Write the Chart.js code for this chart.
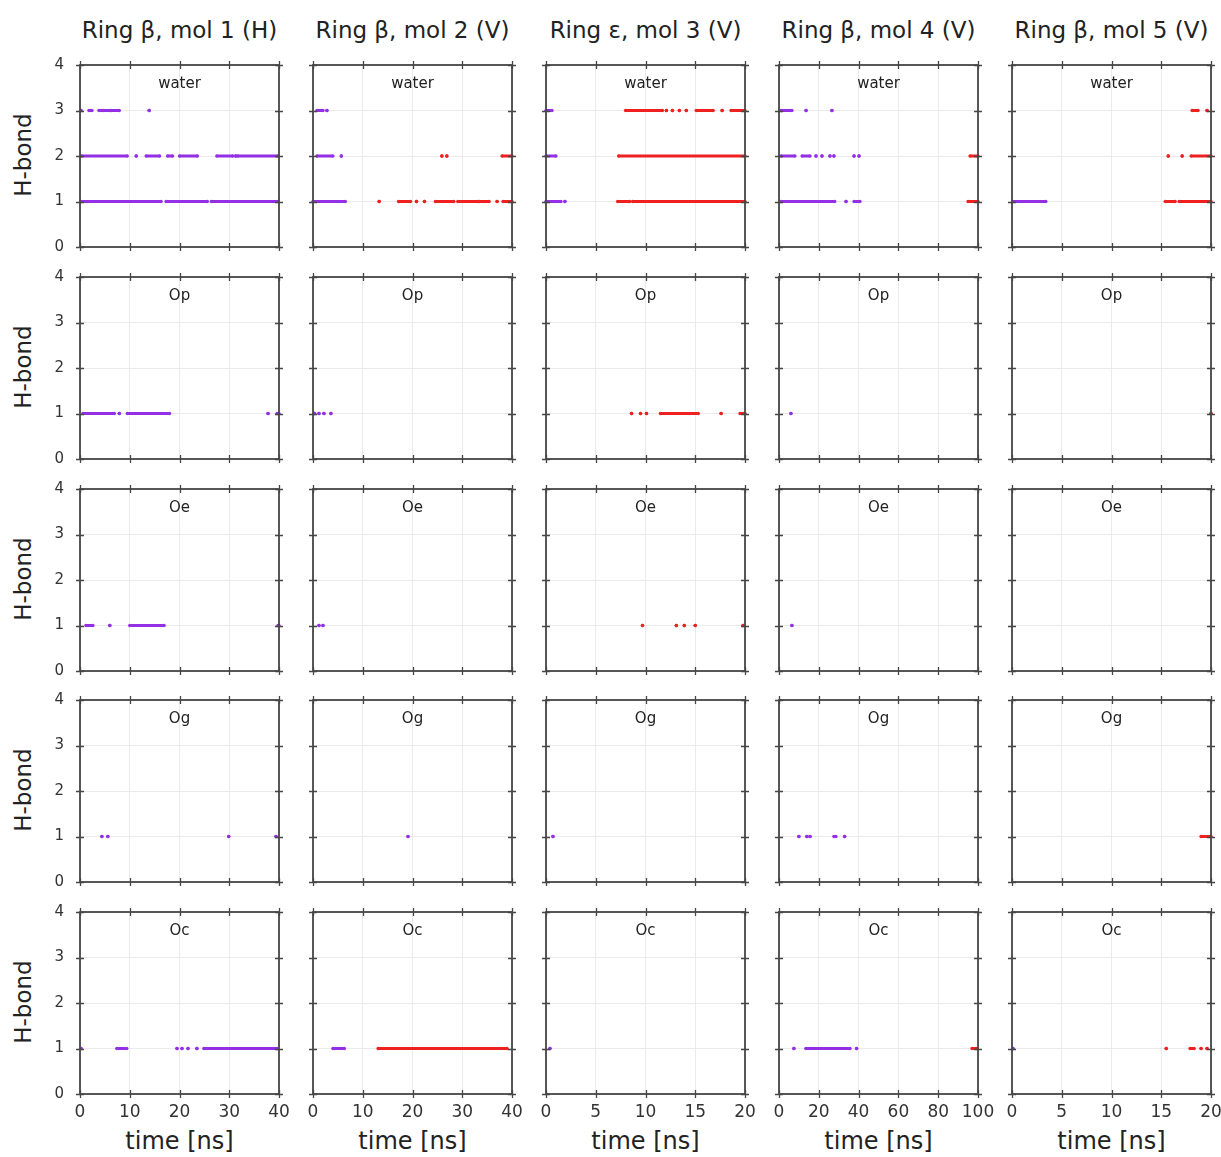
<!DOCTYPE html>
<html>
<head>
<meta charset="utf-8">
<title>H-bond occupancy</title>
<script src="https://cdn.jsdelivr.net/npm/chart.js@4.4.0/dist/chart.umd.min.js"></script>
<style>
    body { margin: 0; background: #fff; overflow: hidden; }
    #page { position: relative; width: 1221px; height: 1157px; font-family: 'DejaVu Sans', sans-serif; color: #222; }
    #page canvas { position: absolute; }
    .coltitle { position: absolute; top: 17px; width: 260px; text-align: center; font-size: 23px; white-space: nowrap; }
    .xlabel { position: absolute; top: 1127px; width: 200px; text-align: center; font-size: 24px; white-space: nowrap; }
    .ylabel { position: absolute; left: -27px; width: 100px; text-align: center; font-size: 23px; transform: rotate(-90deg); white-space: nowrap; }
</style>
</head>
<body>
<div id="page"></div>
<script>
// Panel layout
const rowNames = ['water', 'Op', 'Oe', 'Og', 'Oc'];
const colTitles = ['Ring β, mol 1 (H)', 'Ring β, mol 2 (V)', 'Ring ε, mol 3 (V)', 'Ring β, mol 4 (V)', 'Ring β, mol 5 (V)'];
const xMax = [40, 40, 20, 100, 20];
const xStep = [10, 10, 5, 20, 5];
const yMax = 4;

// H-bond segments: [acceptor, state, count, from ns, to ns]
const mol1 = [
    ['water', 'A', 3, 0.2, 0.2], ['water', 'A', 3, 1.8, 2.4], ['water', 'A', 3, 3.8, 4.4], ['water', 'A', 3, 4.8, 5.9],
    ['water', 'A', 3, 6.3, 7.9], ['water', 'A', 3, 13.9, 13.9],
    ['water', 'A', 2, 0.2, 9.5], ['water', 'A', 2, 11.3, 11.3], ['water', 'A', 2, 13.3, 16], ['water', 'A', 2, 17.6, 18.6],
    ['water', 'A', 2, 20, 23.6], ['water', 'A', 2, 27.5, 30.7], ['water', 'A', 2, 31.3, 31.3], ['water', 'A', 2, 31.7, 39.8],
    ['water', 'A', 1, 0.2, 16.3], ['water', 'A', 1, 17.3, 25.6], ['water', 'A', 1, 26.4, 39.8],
    ['Op', 'A', 1, 0.6, 6.9], ['Op', 'A', 1, 7.9, 7.9], ['Op', 'A', 1, 9.5, 18], ['Op', 'A', 1, 37.8, 37.8], ['Op', 'A', 1, 39.6, 40],
    ['Oe', 'A', 1, 1.2, 2.6], ['Oe', 'A', 1, 6, 6], ['Oe', 'A', 1, 10, 16.9], ['Oe', 'A', 1, 39.8, 40],
    ['Og', 'A', 1, 4.4, 4.4], ['Og', 'A', 1, 5.6, 5.6], ['Og', 'A', 1, 29.9, 29.9], ['Og', 'A', 1, 39.4, 39.4],
    ['Oc', 'A', 1, 0.2, 0.2], ['Oc', 'A', 1, 7.4, 9.4], ['Oc', 'A', 1, 19.5, 19.5], ['Oc', 'A', 1, 20.5, 20.5],
    ['Oc', 'A', 1, 21.7, 21.7], ['Oc', 'A', 1, 23.5, 23.5], ['Oc', 'A', 1, 24.9, 39.6]
];

const mol2 = [
    ['water', 'A', 3, 0.8, 2.0], ['water', 'A', 3, 2.8, 2.8],
    ['water', 'A', 2, 0.8, 4.0], ['water', 'A', 2, 5.7, 5.7],
    ['water', 'B', 2, 25.9, 25.9], ['water', 'B', 2, 26.9, 26.9], ['water', 'B', 2, 38, 40],
    ['water', 'A', 1, 0, 6.5],
    ['water', 'B', 1, 13.3, 13.3], ['water', 'B', 1, 17.2, 19.6], ['water', 'B', 1, 20.8, 20.8], ['water', 'B', 1, 22.4, 22.4],
    ['water', 'B', 1, 24.6, 28.3], ['water', 'B', 1, 29.1, 33.1], ['water', 'B', 1, 33.5, 35.4], ['water', 'B', 1, 37, 37],
    ['water', 'B', 1, 38.2, 40],
    ['Op', 'A', 1, 0.3, 0.3], ['Op', 'A', 1, 1.2, 1.2], ['Op', 'A', 1, 2.2, 2.2], ['Op', 'A', 1, 3.6, 3.6],
    ['Oe', 'A', 1, 1.2, 1.2], ['Oe', 'A', 1, 2.0, 2.0],
    ['Og', 'A', 1, 19.1, 19.1],
    ['Oc', 'A', 1, 4.0, 6.3], ['Oc', 'B', 1, 13.1, 39]
];

const mol3 = [
    ['water', 'A', 3, 0, 0.6],
    ['water', 'B', 3, 8.0, 11.7], ['water', 'B', 3, 12.1, 12.1], ['water', 'B', 3, 12.7, 12.7], ['water', 'B', 3, 13.4, 13.4],
    ['water', 'B', 3, 14.1, 14.1], ['water', 'B', 3, 15.1, 16.8], ['water', 'B', 3, 17.7, 17.7], ['water', 'B', 3, 18.6, 20],
    ['water', 'A', 2, 0, 1.0], ['water', 'B', 2, 7.3, 20],
    ['water', 'A', 1, 0, 1.5], ['water', 'A', 1, 1.9, 1.9], ['water', 'B', 1, 7.2, 8.4], ['water', 'B', 1, 8.7, 20],
    ['Op', 'B', 1, 8.6, 8.6], ['Op', 'B', 1, 9.5, 9.5], ['Op', 'B', 1, 10.1, 10.1], ['Op', 'B', 1, 11.5, 15.3],
    ['Op', 'B', 1, 17.6, 17.6], ['Op', 'B', 1, 19.5, 20],
    ['Oe', 'B', 1, 9.7, 9.7], ['Oe', 'B', 1, 13.1, 13.1], ['Oe', 'B', 1, 13.9, 13.9], ['Oe', 'B', 1, 15.0, 15.0], ['Oe', 'B', 1, 19.8, 19.8],
    ['Og', 'A', 1, 0.7, 0.7],
    ['Oc', 'A', 1, 0.4, 0.4]
];

const mol4 = [
    ['water', 'A', 3, 1, 6.5], ['water', 'A', 3, 13.6, 13.6], ['water', 'A', 3, 26.6, 26.6],
    ['water', 'A', 2, 1, 8], ['water', 'A', 2, 11.6, 15.6], ['water', 'A', 2, 18.6, 18.6], ['water', 'A', 2, 21.6, 21.6],
    ['water', 'A', 2, 25.6, 25.6], ['water', 'A', 2, 27.6, 27.6], ['water', 'A', 2, 37.7, 37.7], ['water', 'A', 2, 40.2, 40.2],
    ['water', 'B', 2, 96, 100],
    ['water', 'A', 1, 1, 28], ['water', 'A', 1, 33.7, 33.7], ['water', 'A', 1, 37.7, 40.7], ['water', 'B', 1, 95, 100],
    ['Op', 'A', 1, 6, 6],
    ['Oe', 'A', 1, 6.5, 6.5],
    ['Og', 'A', 1, 10, 10], ['Og', 'A', 1, 14, 14], ['Og', 'A', 1, 15.6, 15.6], ['Og', 'A', 1, 27.6, 28.6], ['Og', 'A', 1, 33, 33],
    ['Oc', 'A', 1, 7.5, 7.5], ['Oc', 'A', 1, 13.5, 35.7], ['Oc', 'A', 1, 39, 39], ['Oc', 'B', 1, 97, 99.5]
];

const mol5 = [
    ['water', 'B', 3, 18.1, 18.7], ['water', 'B', 3, 19.6, 19.6],
    ['water', 'B', 2, 15.7, 15.7], ['water', 'B', 2, 17.1, 17.1], ['water', 'B', 2, 18, 20],
    ['water', 'A', 1, 0.1, 3.4], ['water', 'B', 1, 15.4, 16.4], ['water', 'B', 1, 16.8, 20],
    ['Op', 'B', 1, 20, 20],
    ['Og', 'B', 1, 19, 20],
    ['Oc', 'A', 1, 0.1, 0.1], ['Oc', 'B', 1, 15.5, 15.5], ['Oc', 'B', 1, 17.9, 18.3], ['Oc', 'B', 1, 19, 19], ['Oc', 'B', 1, 19.6, 19.6]
];

const molecules = [mol1, mol2, mol3, mol4, mol5];
const stateColors = { A: '#9430e4', B: '#ee2020' };

// Geometry of the plot boxes on the page
const colLeft = [80, 313, 546, 779, 1012];
const rowTop = [65, 277, 489, 700, 912];
const boxW = 199;
const boxH = 182;
const padL = 40, padT = 10, padR = 22, padB = 40;

const page = document.getElementById('page');

// Frame with ticks crossing both ways, plus the acceptor name inside
const framePlugin = {
    id: 'hbFrame',
    afterDraw(chart, args, opts) {
        const { ctx, chartArea: a } = chart;
        const xs = chart.scales.x;
        const ys = chart.scales.y;
        ctx.save();
        ctx.strokeStyle = '#464646';
        ctx.lineWidth = 1.3;
        ctx.beginPath();
        xs.ticks.forEach(t => {
            const px = Math.round(xs.getPixelForValue(t.value)) + 0.5;
            ctx.moveTo(px, a.top - 4); ctx.lineTo(px, a.top + 4);
            ctx.moveTo(px, a.bottom - 4); ctx.lineTo(px, a.bottom + 4);
        });
        ys.ticks.forEach(t => {
            const py = Math.round(ys.getPixelForValue(t.value)) + 0.5;
            ctx.moveTo(a.left - 4, py); ctx.lineTo(a.left + 4, py);
            ctx.moveTo(a.right - 4, py); ctx.lineTo(a.right + 4, py);
        });
        ctx.stroke();
        ctx.lineWidth = 1.8;
        ctx.strokeRect(a.left, a.top, a.right - a.left, a.bottom - a.top);
        ctx.fillStyle = '#222';
        ctx.font = '15px "DejaVu Sans"';
        ctx.textAlign = 'center';
        ctx.textBaseline = 'middle';
        ctx.fillText(opts.label, (a.left + a.right) / 2, a.top + 19);
        ctx.restore();
    }
};

// Turn segments into line points, broken by null gaps
const buildPoints = (segments) => {
    const points = [];
    segments.forEach(([, , count, from, to]) => {
        points.push({ x: from, y: count }, { x: to, y: count }, { x: to, y: null });
    });
    return points;
};

const makePanel = (c, r) => {
    const canvas = document.createElement('canvas');
    canvas.width = padL + boxW + padR;
    canvas.height = padT + boxH + padB;
    canvas.style.left = (colLeft[c] - padL) + 'px';
    canvas.style.top = (rowTop[r] - padT) + 'px';
    page.appendChild(canvas);

    const rows = molecules[c].filter(s => s[0] === rowNames[r]);
    const datasets = ['A', 'B'].map(state => {
        const color = stateColors[state];
        return {
            data: buildPoints(rows.filter(s => s[1] === state)),
            borderColor: color,
            backgroundColor: color,
            pointBackgroundColor: color,
            borderWidth: 3,
            pointRadius: 1.7,
            pointBorderWidth: 0,
            spanGaps: false,
            clip: 4
        };
    });

    new Chart(canvas, {
        type: 'line',
        data: { datasets },
        options: {
            responsive: false,
            animation: false,
            events: [],
            layout: { padding: { top: padT, right: padR, left: 0, bottom: 0 } },
            plugins: {
                legend: { display: false },
                tooltip: { enabled: false },
                hbFrame: { label: rowNames[r] }
            },
            scales: {
                x: {
                    type: 'linear',
                    min: 0,
                    max: xMax[c],
                    ticks: {
                        stepSize: xStep[c],
                        display: r === rowNames.length - 1,
                        padding: 8,
                        autoSkip: false,
                        maxRotation: 0,
                        color: '#333',
                        font: { family: 'DejaVu Sans', size: 17 }
                    },
                    grid: { color: '#ebebeb', drawTicks: false },
                    border: { display: false },
                    afterFit: (scale) => {
                        scale.height = padB;
                        scale.paddingLeft = 0;
                        scale.paddingRight = 0;
                    }
                },
                y: {
                    min: 0,
                    max: yMax,
                    ticks: {
                        stepSize: 1,
                        display: c === 0,
                        padding: 16,
                        color: '#333',
                        font: { family: 'DejaVu Sans', size: 15 }
                    },
                    grid: { color: '#ebebeb', drawTicks: false },
                    border: { display: false },
                    afterFit: (scale) => {
                        scale.width = padL;
                        scale.paddingTop = 0;
                        scale.paddingBottom = 0;
                    }
                }
            }
        },
        plugins: [framePlugin]
    });
};

// Labels around the grid
colTitles.forEach((title, c) => {
    const el = document.createElement('div');
    el.className = 'coltitle';
    el.textContent = title;
    el.style.left = (colLeft[c] + boxW / 2 - 130) + 'px';
    page.appendChild(el);

    const xl = document.createElement('div');
    xl.className = 'xlabel';
    xl.textContent = 'time [ns]';
    xl.style.left = (colLeft[c] + boxW / 2 - 100) + 'px';
    page.appendChild(xl);
});

rowNames.forEach((_, r) => {
    const el = document.createElement('div');
    el.className = 'ylabel';
    el.textContent = 'H-bond';
    el.style.top = (rowTop[r] + boxH / 2 - 14) + 'px';
    page.appendChild(el);
});

for (let r = 0; r < rowNames.length; r++) {
    for (let c = 0; c < colTitles.length; c++) {
        makePanel(c, r);
    }
}
</script>
</body>
</html>
